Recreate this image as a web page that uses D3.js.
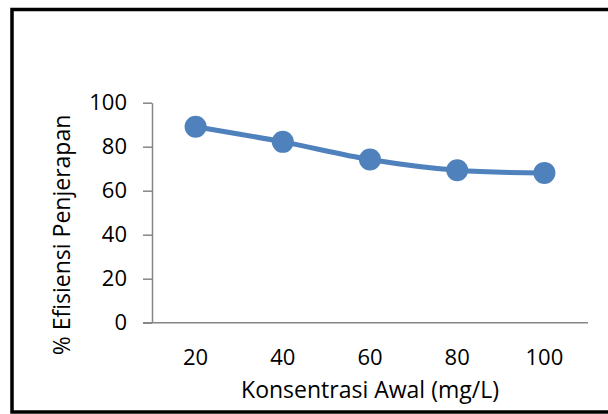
<!DOCTYPE html>
<html lang="id">

<head>
  <meta charset="UTF-8">
  <title>Efisiensi Penjerapan</title>
  <style>
    * {
      margin: 0;
      padding: 0;
    }

    body {
      background: #fff;
      width: 608px;
      height: 414px;
      overflow: hidden;
    }

    svg text {
      font-family: "Open Sans", Lato, sans-serif;
      fill: #000;
    }
  </style>
  <script src="https://cdnjs.cloudflare.com/ajax/libs/d3/7.8.5/d3.min.js"></script>
</head>

<body>
  <svg id="chart" width="608" height="414"></svg>

  <script>
    // data
    const concentrations = ['20', '40', '60', '80', '100'];
    const efficiency = [89.1, 82.2, 74.2, 69.3, 68.1];
    const yTicks = [0, 20, 40, 60, 80, 100];

    const blue = '#4F81BD';
    const axisGrey = '#868686';

    const plot = { left: 152, right: 588, top: 102.7, bottom: 322.7 };

    const svg = d3.select('#chart');

    // outer frame (cropped on the right)
    svg.append('rect')
      .attr('x', 12)
      .attr('y', 9.5)
      .attr('width', 640)
      .attr('height', 402.5)
      .attr('fill', 'none')
      .attr('stroke', '#000')
      .attr('stroke-width', 3.5);

    const x = d3.scaleBand()
      .domain(concentrations)
      .range([plot.left, plot.right]);

    const y = d3.scaleLinear()
      .domain([0, 100])
      .range([plot.bottom, plot.top]);

    // y axis
    const yAxis = svg.append('g')
      .attr('transform', `translate(${plot.left},0)`)
      .call(d3.axisLeft(y).tickValues(yTicks).tickSize(9).tickPadding(16).tickSizeOuter(0));
    yAxis.select('.domain').attr('stroke', axisGrey).attr('stroke-width', 1.5);
    yAxis.selectAll('.tick line').attr('stroke', axisGrey).attr('stroke-width', 1.5);
    yAxis.selectAll('.tick text')
      .attr('font-size', 22)
      .attr('fill', '#000');

    // x axis
    const xAxis = svg.append('g')
      .attr('transform', `translate(0,${plot.bottom})`)
      .call(d3.axisBottom(x).tickSize(0).tickPadding(27));
    xAxis.select('.domain').remove();
    xAxis.append('line')
      .attr('x1', plot.left - 9)
      .attr('x2', plot.right)
      .attr('stroke', axisGrey)
      .attr('stroke-width', 1.5);
    xAxis.selectAll('.tick text')
      .attr('font-size', 22)
      .attr('fill', '#000');

    // smoothed line
    const line = d3.line()
      .x((d, i) => x(concentrations[i]) + x.bandwidth() / 2)
      .y(d => y(d))
      .curve(d3.curveCatmullRom.alpha(0));

    svg.append('path')
      .datum(efficiency)
      .attr('d', line)
      .attr('fill', 'none')
      .attr('stroke', blue)
      .attr('stroke-width', 5)
      .attr('stroke-linecap', 'round');

    svg.selectAll('.marker')
      .data(efficiency)
      .enter()
      .append('circle')
      .attr('class', 'marker')
      .attr('cx', (d, i) => x(concentrations[i]) + x.bandwidth() / 2)
      .attr('cy', d => y(d))
      .attr('r', 11)
      .attr('fill', blue);

    // axis titles
    svg.append('text')
      .attr('x', 370)
      .attr('y', 398)
      .attr('text-anchor', 'middle')
      .attr('font-size', 23)
      .text('Konsentrasi Awal (mg/L)');

    svg.append('text')
      .attr('transform', 'translate(70,235) rotate(-90)')
      .attr('text-anchor', 'middle')
      .attr('font-size', 23)
      .text('% Efisiensi Penjerapan');
  </script>
</body>

</html>
